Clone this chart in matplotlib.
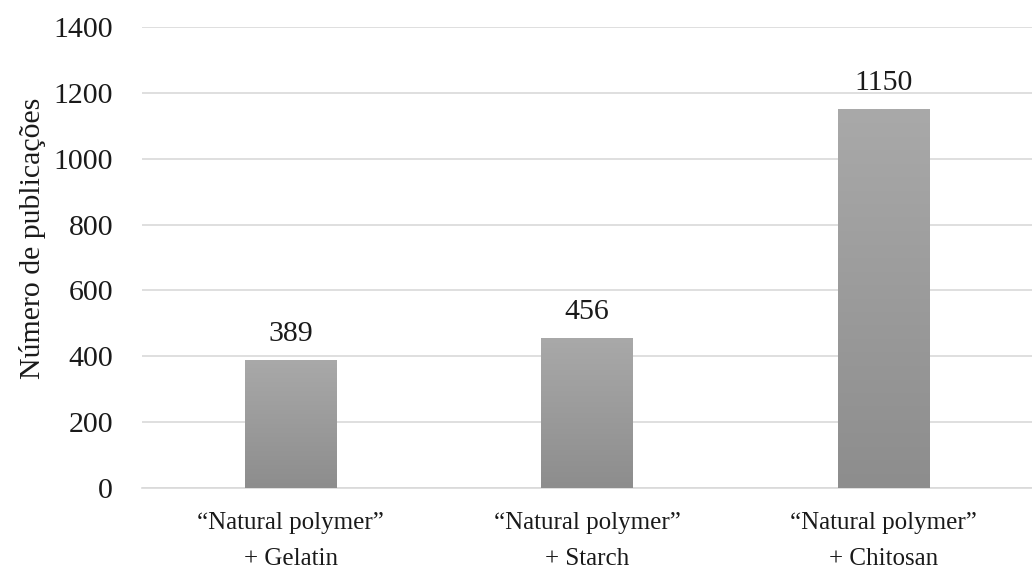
import matplotlib
matplotlib.use("Agg")
import matplotlib.pyplot as plt
import numpy as np
from matplotlib.colors import LinearSegmentedColormap

categories = ["\u201cNatural polymer\u201d\n+ Gelatin",
              "\u201cNatural polymer\u201d\n+ Starch",
              "\u201cNatural polymer\u201d\n+ Chitosan"]
values = [389, 456, 1150]
yticks = [0, 200, 400, 600, 800, 1000, 1200, 1400]

plt.rcParams['font.family'] = ['Liberation Serif', 'DejaVu Serif']

fig = plt.figure(figsize=(10.32, 5.75), dpi=100)
ax = fig.add_axes([0.138, 0.1513, 0.862, 0.8017])

x = np.arange(len(categories))
bars = ax.bar(x, values, width=0.31, color='#9C9C9C', zorder=3)

grad = np.linspace(0, 1, 256).reshape(-1, 1)
cmap = LinearSegmentedColormap.from_list('g', ['#8D8D8D', '#A9A9A9'])
for b in bars:
    x0, y0 = b.get_x(), b.get_y()
    w, h = b.get_width(), b.get_height()
    im = ax.imshow(grad, extent=[x0, x0 + w, y0, y0 + h], origin='lower',
                   cmap=cmap, aspect='auto', zorder=4)
    im.set_clip_path(b)

txtc = '#1a1a1a'
for xi, v in zip(x, values):
    ax.text(xi, v + 40, str(v), ha='center', va='bottom', fontsize=21.5, color=txtc)

ax.set_xlim(-0.5, 2.5)
ax.set_ylim(0, 1400)
ax.set_yticks(yticks)
ax.set_xticks(x)
ax.set_xticklabels(categories, fontsize=18, color=txtc, linespacing=1.85)
ax.tick_params(axis='y', labelsize=21.5, labelcolor=txtc, length=0, pad=21)
ax.tick_params(axis='x', length=0, pad=17)
ax.grid(axis='y', color='#D9D9D9', linewidth=1.2, zorder=0)
for s in ['top', 'right', 'left']:
    ax.spines[s].set_visible(False)
ax.spines['bottom'].set_color('#D9D9D9')
ax.spines['bottom'].set_linewidth(1.2)
ax.set_ylabel('Número de publicações', fontsize=21.5, color=txtc)
ax.yaxis.set_label_coords(-0.108, 0.542)

fig.savefig('out.png', dpi=100, facecolor='white')
